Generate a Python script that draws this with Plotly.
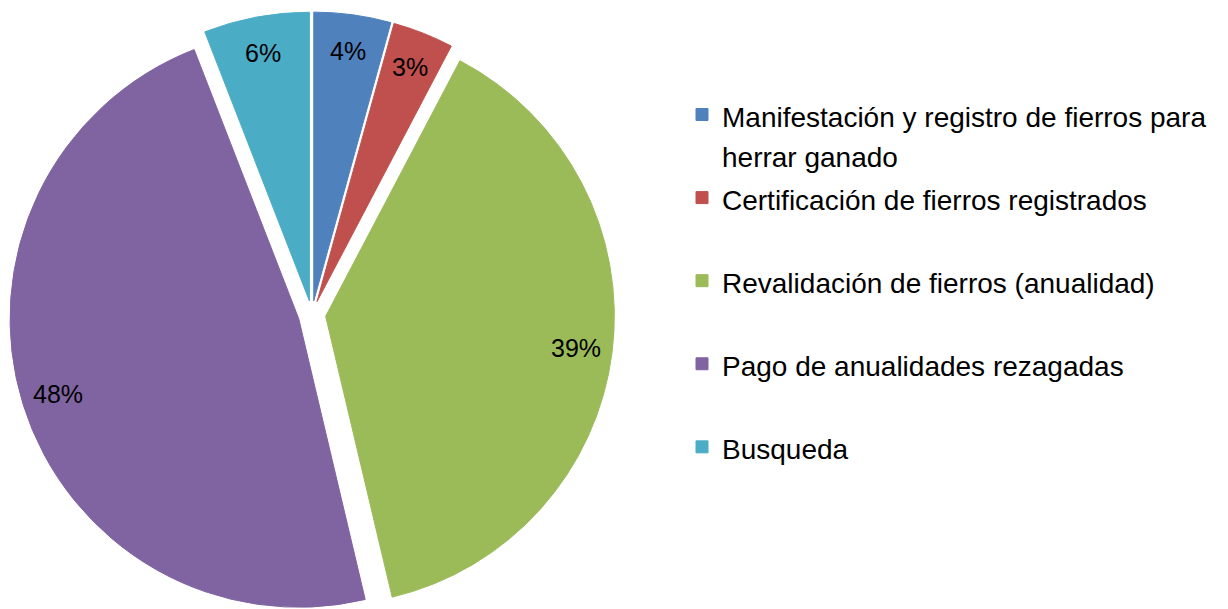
import math
import plotly.graph_objects as go

# ---- data ----
categories = [
    "Manifestación y registro de fierros para<br>herrar ganado",
    "Certificación de fierros registrados",
    "Revalidación de fierros (anualidad)",
    "Pago de anualidades rezagadas",
    "Busqueda",
]
values = [4.3, 3.4, 38.6, 47.8, 5.9]
colors = ["#4F81BD", "#C0504D", "#9BBB59", "#8064A2", "#4BACC6"]

# ---- layout constants ----
W, H = 1228, 609
M_T, M_B, M_L, M_R = 4, 0, 0, 0
PULL = 0.048
DOM_X = [0.0, 0.495]
LEG_SPAN_SIZE = 28
LEG_FONT_SIZE = 30.8


def legend_label(lab):
    lines = lab.split("<br>")
    parts = [f'<span style="font-size:{LEG_SPAN_SIZE}px">{ln}</span>' for ln in lines]
    if len(parts) == 1:
        parts.append(" ")
    return "<br>".join(parts)


leg_labels = [legend_label(c) for c in categories]

fig = go.Figure()
fig.add_trace(go.Pie(
    labels=leg_labels,
    values=values,
    sort=False,
    direction="clockwise",
    rotation=0,
    pull=[PULL] * len(values),
    marker=dict(colors=colors, line=dict(color=colors, width=1)),
    textinfo="none",
    hoverinfo="skip",
    domain=dict(x=DOM_X, y=[0, 1]),
))

# label positions derived from the pie geometry
gw = W - M_L - M_R
gh = H - M_T - M_B
cx = M_L + gw * (DOM_X[0] + DOM_X[1]) / 2
cy = M_T + gh / 2
r = min(gw * (DOM_X[1] - DOM_X[0]) / 2, gh / 2) / (1 + PULL)
total = sum(values)
acc = 0.0
annotations = []
for v in values:
    mid = (acc + v / 2) / total * 2 * math.pi
    acc += v
    dist = PULL * r + 0.875 * r
    px = cx + dist * math.sin(mid)
    py = cy - dist * math.cos(mid)
    annotations.append(dict(
        x=(px - M_L) / gw, y=1 - (py - M_T) / gh, xref="paper", yref="paper",
        text=f"{round(v / total * 100)}%", showarrow=False,
        font=dict(family="Liberation Sans, Arial, sans-serif", size=25, color="#000000"),
        xanchor="center", yanchor="middle",
    ))

fig.update_layout(
    width=W, height=H,
    margin=dict(t=M_T, b=M_B, l=M_L, r=M_R, autoexpand=False),
    paper_bgcolor="white", plot_bgcolor="white",
    showlegend=True,
    legend=dict(
        x=674 / W, y=1 - (80 - M_T) / gh, xanchor="left", yanchor="top",
        valign="top", bgcolor="rgba(0,0,0,0)",
        font=dict(family="Liberation Sans, Arial, sans-serif", size=LEG_FONT_SIZE, color="#000000"),
        itemclick=False, itemdoubleclick=False,
    ),
    annotations=annotations,
)

fig.write_html("out.html", config={"displayModeBar": False})
